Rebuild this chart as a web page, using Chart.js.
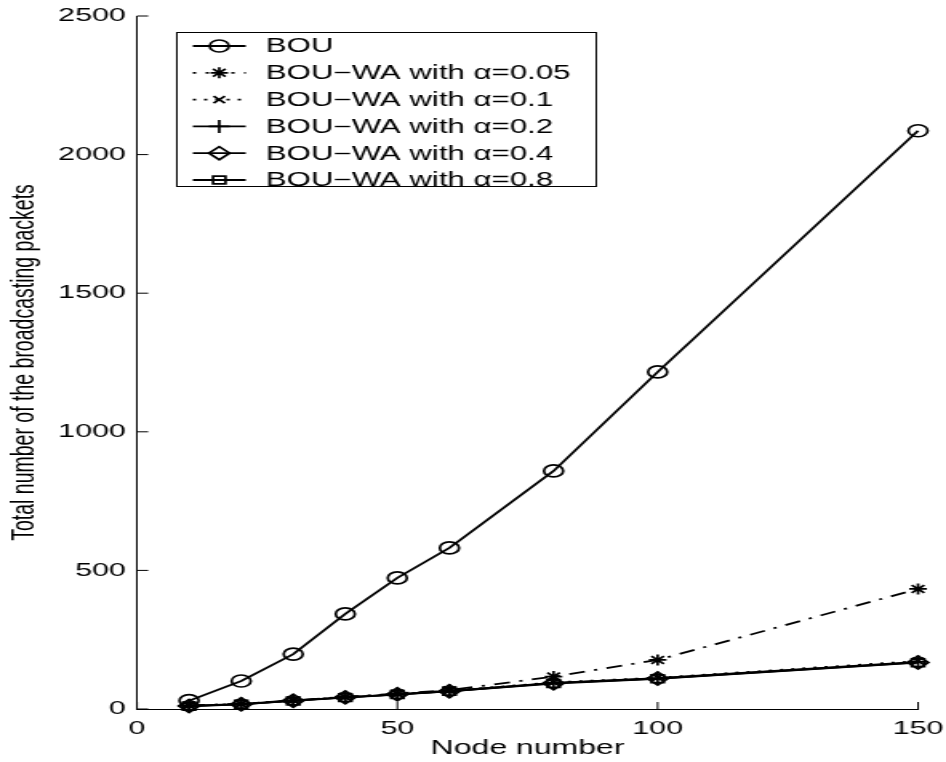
<!DOCTYPE html>
<html>
<head>
<meta charset="utf-8">
<script src="https://cdn.jsdelivr.net/npm/chart.js@4"></script>
<style>
    html, body { margin: 0; padding: 0; background: #fff; overflow: hidden; }
    /* the reference is stretched sideways, so draw narrow and widen */
    #wrap { width: 591px; height: 762px; transform: scaleX(1.6007); transform-origin: 0 0; }
</style>
</head>
<body>
<div id="wrap"><canvas id="grafic" width="591" height="762"></canvas></div>
<script>
const nodes = [10, 20, 30, 40, 50, 60, 80, 100, 150];
const bou = [30, 101, 198, 343, 473, 581, 859, 1216, 2086];
const wa005 = [13, 19, 31, 44, 56, 68, 117, 177, 433];
const wa01 = [12, 18, 31, 43, 54, 66, 96, 113, 173];
const wa02 = [11, 18, 30, 42, 53, 65, 94, 111, 170];
const wa04 = [11, 17, 30, 42, 53, 64, 93, 110, 168];
const wa08 = [10, 17, 29, 41, 52, 64, 92, 109, 167];
const labels = ['BOU', 'BOU\u2212WA with \u03b1=0.05', 'BOU\u2212WA with \u03b1=0.1',
    'BOU\u2212WA with \u03b1=0.2', 'BOU\u2212WA with \u03b1=0.4', 'BOU\u2212WA with \u03b1=0.8'];
const xTicks = [0, 50, 100, 150];
const yTicks = [0, 500, 1000, 1500, 2000, 2500];

const FONT = '"Liberation Sans", Arial, Helvetica, sans-serif';

function serie(label, vals, style, radius, dash) {
    return {
        label: label,
        data: vals.map((v, i) => ({ x: nodes[i], y: v })),
        borderColor: '#000',
        backgroundColor: 'rgba(0,0,0,0)',
        borderWidth: 1.8,
        borderDash: dash,
        pointStyle: style,
        pointRadius: radius,
        pointBorderColor: '#000',
        pointBackgroundColor: 'rgba(0,0,0,0)',
        pointBorderWidth: 1.7,
        tension: 0,
        clip: false
    };
}

const datasets = [
    serie(labels[0], bou, 'circle', 6, []),
    serie(labels[1], wa005, 'star', 5.5, [10, 6, 2, 6]),
    serie(labels[2], wa01, 'crossRot', 5, [2, 5]),
    serie(labels[3], wa02, 'cross', 6.5, []),
    serie(labels[4], wa04, 'rectRot', 6.5, []),
    serie(labels[5], wa08, 'rect', 5.5, [])
];

// inward tick marks like the original
const tickMarks = {
    id: 'tickMarks',
    afterDraw(chart) {
        const ctx = chart.ctx, xs = chart.scales.x, ys = chart.scales.y;
        const a = chart.chartArea;
        ctx.save();
        ctx.strokeStyle = '#000';
        ctx.lineWidth = 1;
        xTicks.forEach(v => {
            const px = xs.getPixelForValue(v);
            ctx.beginPath(); ctx.moveTo(px, a.bottom); ctx.lineTo(px, a.bottom - 7); ctx.stroke();
        });
        yTicks.forEach(v => {
            const py = ys.getPixelForValue(v);
            ctx.beginPath(); ctx.moveTo(a.left, py); ctx.lineTo(a.left + 7, py); ctx.stroke();
        });
        ctx.restore();
    }
};

// legend box inside the plot
const legendBox = {
    id: 'legendBox',
    afterDraw(chart) {
        const ctx = chart.ctx;
        const bx = 110.5, by = 32.5, bw = 262, bh = 154;
        ctx.save();
        ctx.fillStyle = '#fff';
        ctx.fillRect(bx, by, bw, bh);
        ctx.strokeStyle = '#000';
        ctx.lineWidth = 1;
        ctx.strokeRect(bx, by, bw, bh);
        ctx.font = '19.5px ' + FONT;
        ctx.textBaseline = 'middle';
        chart.data.datasets.forEach((ds, i) => {
            const y = 46 + i * 26.8;
            ctx.strokeStyle = '#000';
            ctx.lineWidth = ds.borderWidth;
            ctx.setLineDash(i === 1 ? [2, 6] : ds.borderDash);
            ctx.beginPath(); ctx.moveTo(120.5, y); ctx.lineTo(153.5, y); ctx.stroke();
            ctx.setLineDash([]);
            ctx.lineWidth = ds.pointBorderWidth;
            ctx.fillStyle = 'rgba(0,0,0,0)';
            Chart.helpers.drawPoint(ctx, {
                pointStyle: ds.pointStyle, radius: ds.pointRadius,
                rotation: 0, borderWidth: ds.pointBorderWidth
            }, 137, y);
            ctx.fillStyle = '#000';
            ctx.fillText(ds.label, 166, y + 1);
        });
        ctx.restore();
    }
};

new Chart(document.getElementById('grafic').getContext('2d'), {
    type: 'line',
    data: { datasets: datasets },
    plugins: [tickMarks, legendBox],
    options: {
        responsive: false,
        animation: false,
        devicePixelRatio: 1,
        layout: { padding: { top: 16, right: 17.5, left: 0, bottom: 0 } },
        plugins: { legend: { display: false }, tooltip: { enabled: false } },
        scales: {
            x: {
                type: 'linear',
                min: 0, max: 150,
                afterBuildTicks: s => { s.ticks = xTicks.map(v => ({ value: v })); },
                afterFit: s => { s.height = 53; s.paddingLeft = 0; s.paddingRight = 0; },
                grid: { display: false, drawTicks: false },
                border: { display: true, color: '#000', width: 1 },
                ticks: {
                    color: '#000', padding: 8, maxRotation: 0,
                    font: { family: FONT, size: 19 },
                    callback: v => String(v)
                },
                title: {
                    display: true, text: 'Node number', color: '#000',
                    font: { family: FONT, size: 20 }, padding: { top: 0, bottom: 2 }
                }
            },
            y: {
                min: 0, max: 2500,
                afterBuildTicks: s => { s.ticks = yTicks.map(v => ({ value: v })); },
                afterFit: s => { s.width = 85.6; s.paddingTop = 0; s.paddingBottom = 0; },
                grid: { display: false, drawTicks: false },
                border: { display: true, color: '#000', width: 1 },
                ticks: {
                    color: '#000', padding: 7,
                    font: { family: FONT, size: 19 },
                    callback: v => String(v)
                },
                title: {
                    display: true, text: 'Total number of the broadcasting packets', color: '#000',
                    font: { family: FONT, size: 19.5 }, padding: { top: 4, bottom: 0 }
                }
            }
        }
    }
});
</script>
</body>
</html>
